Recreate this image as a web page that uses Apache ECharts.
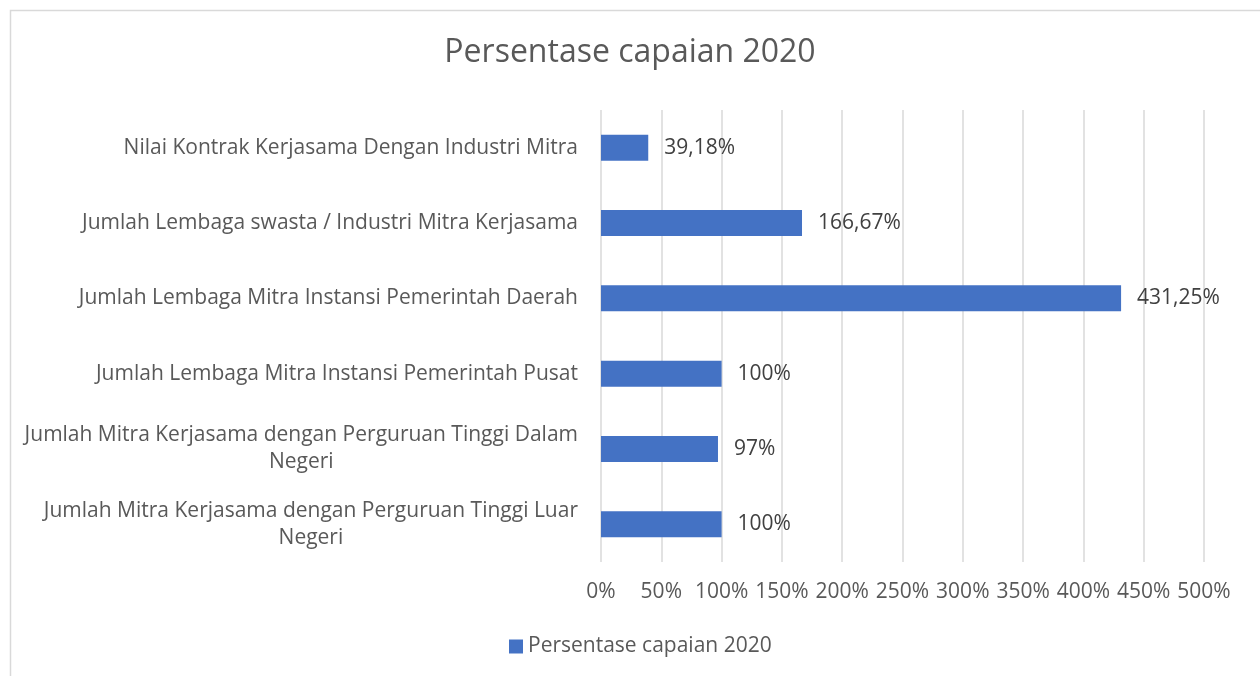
<!DOCTYPE html>
<html>
<head>
<meta charset="utf-8">
<script src="https://cdn.jsdelivr.net/npm/echarts@6/dist/echarts.min.js"></script>
<style>
  html, body { margin: 0; padding: 0; background: #fff; }
  #chart-panel { width: 1260px; height: 676px; }
</style>
</head>
<body>
<div id="chart-panel"></div>
<script>
(function () {
  var myChart = echarts.init(document.querySelector('#chart-panel'));

  var seriesName = 'Persentase capaian 2020';
  // categories top to bottom
  var categories = [
    'Nilai Kontrak Kerjasama Dengan Industri Mitra',
    'Jumlah Lembaga swasta / Industri Mitra Kerjasama',
    'Jumlah Lembaga Mitra Instansi Pemerintah Daerah',
    'Jumlah Lembaga Mitra Instansi Pemerintah Pusat',
    'Jumlah Mitra Kerjasama dengan Perguruan Tinggi Dalam\nNegeri',
    'Jumlah Mitra Kerjasama dengan Perguruan Tinggi Luar\nNegeri'
  ];
  var values = [39.18, 166.67, 431.25, 100, 97, 100];

  var textColor = '#595959';
  var fontFamily = '"Open Sans", "Noto Sans", sans-serif';
  var fs = 21;

  var option = {
    textStyle: { fontFamily: fontFamily },
    title: {
      text: seriesName,
      left: 'center',
      top: 32,
      textStyle: { color: textColor, fontSize: 32, fontWeight: 'normal', fontFamily: fontFamily }
    },
    legend: {
      bottom: 14,
      left: 504,
      icon: 'rect',
      itemWidth: 14,
      itemHeight: 14,
      itemGap: 5,
      textStyle: { color: textColor, fontSize: fs, fontFamily: fontFamily }
    },
    grid: { left: 601, right: 56, top: 110, bottom: 114 },
    xAxis: {
      type: 'value',
      min: 0,
      max: 500,
      interval: 50,
      axisLine: { show: false },
      axisTick: { show: false },
      splitLine: { lineStyle: { color: '#d9d9d9', width: 1.5 } },
      axisLabel: {
        color: textColor,
        fontSize: fs,
        margin: 20,
        formatter: '{value}%'
      }
    },
    yAxis: {
      type: 'category',
      inverse: true,
      data: categories,
      axisLine: { show: false },
      axisTick: { show: false },
      axisLabel: {
        color: textColor,
        fontSize: fs,
        margin: 23,
        lineHeight: 27,
        formatter: function (v) {
          return v.split('\n').map(function (s) { return '{c|' + s + '}'; }).join('\n');
        },
        rich: { c: { align: 'center', color: textColor, fontSize: fs, lineHeight: 27, fontFamily: fontFamily } }
      }
    },
    series: [{
      name: seriesName,
      type: 'bar',
      data: values,
      barWidth: 26,
      itemStyle: { color: '#4472C4' },
      label: {
        show: true,
        position: 'right',
        distance: 16,
        color: '#404040',
        fontSize: fs,
        fontFamily: fontFamily,
        formatter: function (p) { return String(p.value).replace('.', ',') + '%'; }
      }
    }],
    graphic: [{
      type: 'rect',
      shape: { x: 10.5, y: 10.5, width: 1300, height: 700 },
      style: { fill: 'none', stroke: '#d9d9d9', lineWidth: 1.5 },
      silent: true
    }]
  };

  myChart.setOption(option);
})();
</script>
</body>
</html>
